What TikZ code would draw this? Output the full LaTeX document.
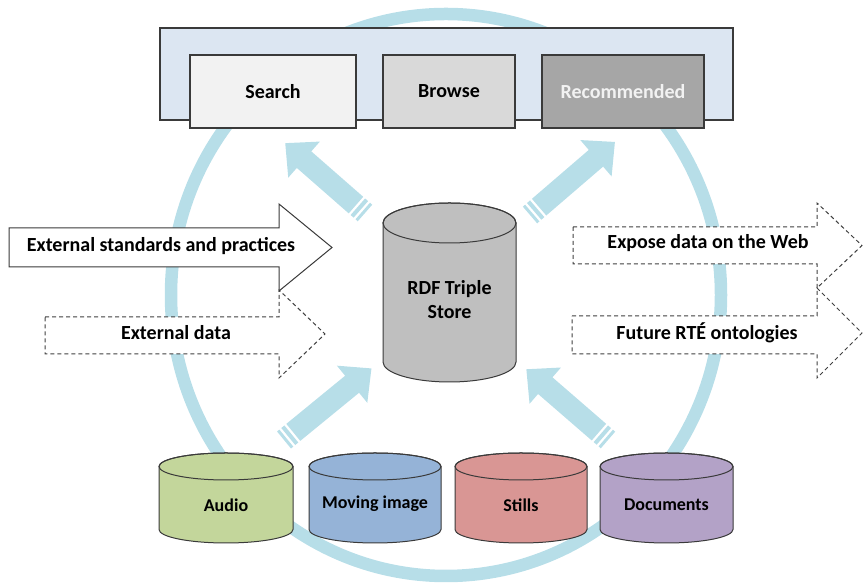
\documentclass[tikz,border=0pt]{standalone}
\usepackage{fontspec}
\setmainfont{Carlito}
\definecolor{ringc}{HTML}{B7DEE8}
\definecolor{topbg}{HTML}{DCE6F2}
\definecolor{searchc}{HTML}{F2F2F2}
\definecolor{browsec}{HTML}{D9D9D9}
\definecolor{recc}{HTML}{A6A6A6}
\definecolor{rdfc}{HTML}{BFBFBF}
\definecolor{audioc}{HTML}{C3D69B}
\definecolor{movc}{HTML}{95B3D7}
\definecolor{stillc}{HTML}{D99694}
\definecolor{docc}{HTML}{B3A2C7}
\definecolor{edgec}{HTML}{3A3A3A}
\tikzset{
  lbl/.style={font=\bfseries\fontsize{20}{24}\selectfont, text=black, inner sep=0pt},
  smalllbl/.style={font=\bfseries\fontsize{18}{22}\selectfont, text=black, inner sep=0pt},
  drumlbl/.style={lbl},
  panelbox/.style={draw=edgec, line width=1.3pt},
  cylline/.style={draw=edgec, line width=1pt},
  solidarrow/.style={draw=edgec, line width=1pt, fill=white},
  dasharrow/.style={draw=black!75, line width=1pt, fill=white, dash pattern=on 4pt off 3pt},
}
\newcommand\bluearrow[3]{%
  \begin{scope}[shift={(#1)}, rotate=#2]
    \fill[ringc] (0,-11) rectangle (3,11);
    \fill[ringc] (5.5,-11) rectangle (9.5,11);
    \fill[ringc] (12,-11) -- ({#3-25},-11) -- ({#3-25},-24) -- (#3,0) -- ({#3-25},24) -- ({#3-25},11) -- (12,11) -- cycle;
  \end{scope}}
\newcommand\drum[9]{%
  \filldraw[cylline, fill=#7] ({#2-#5},{#3-#6}) -- ({#2-#5},{#4+#6})
     arc[start angle=180, end angle=360, x radius=#5pt, y radius=#6pt]
     -- ({#2+#5},{#3-#6})
     arc[start angle=0, end angle=180, x radius=#5pt, y radius=#6pt] -- cycle;
  \draw[cylline] (#2,{#3-#6}) ellipse[x radius=#5pt, y radius=#6pt];
  \node[drumlbl, align=center] (#1) at (#2,#9) {#8};}
\begin{document}
\begin{tikzpicture}[x=1pt, y=1pt]
\useasboundingbox (0,0) rectangle (868,585);
% ring
\draw[ringc, line width=12.5pt] (446,290) ellipse[x radius=275pt, y radius=281pt];
% top panel
\node[panelbox, fill=topbg, minimum width=573pt, minimum height=92pt, inner sep=0pt] (panel) at (446.5,511) {};
\node[panelbox, fill=searchc, minimum width=166pt, minimum height=73pt, inner sep=0pt, lbl] (search) at (273,493.5) {Search};
\node[panelbox, fill=browsec, minimum width=132pt, minimum height=73pt, inner sep=0pt, lbl] (browse) at (449,493.5) {Browse};
\node[panelbox, fill=recc, minimum width=162pt, minimum height=73pt, inner sep=0pt, lbl, text=searchc] (recommended) at (623,493.5) {Recommended};
% blue arrows
\coordinate (ulTail) at (365,372);
\coordinate (urTail) at (530,370);
\coordinate (llTail) at (284,145);
\coordinate (lrTail) at (608,145);
\bluearrow{ulTail}{138.8}{106}
\bluearrow{urTail}{40.7}{112}
\bluearrow{llTail}{39.3}{113}
\bluearrow{lrTail}{139.1}{108}
% left arrows
\draw[dasharrow] (45,268) -- (279,268) -- (279,295) -- (325,251) -- (279,207) -- (279,231) -- (45,231) -- cycle;
\node[lbl] (extdata) at (176,252) {External data};
\draw[solidarrow] (9,357) -- (279,357) -- (279,381) -- (332,337.5) -- (279,294) -- (279,318) -- (9,318) -- cycle;
\node[lbl] (extstd) at (161,339) {External standards and practices};
% right arrows
\draw[dasharrow] (573,358) -- (817,358) -- (817,382) -- (862,339.5) -- (817,297) -- (817,321) -- (573,321) -- cycle;
\node[lbl] (expose) at (708,342) {Expose data on the Web};
\draw[dasharrow] (572,269) -- (817,269) -- (817,297) -- (862,252) -- (817,207) -- (817,231) -- (572,231) -- cycle;
\node[lbl] (future) at (707,252) {Future RTÉ ontologies};
% cylinders
\drum{rdf}{449.5}{382}{203}{66.5}{20}{rdfc}{RDF Triple\\Store}{285}
\tikzset{drumlbl/.style={smalllbl}}
\drum{audio}{226}{132}{42}{67}{13.5}{audioc}{Audio}{80}
\drum{moving}{375}{132}{42}{66}{13.5}{movc}{Moving image}{81}
\drum{stills}{521}{132}{42}{66}{13.5}{stillc}{Stills}{80}
\drum{documents}{666.5}{132}{42}{66.5}{13.5}{docc}{Documents}{80}
\end{tikzpicture}
\end{document}
